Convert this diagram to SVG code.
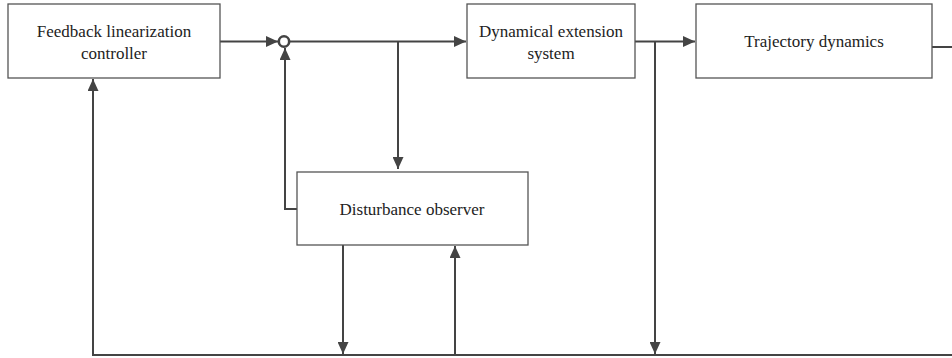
<svg xmlns="http://www.w3.org/2000/svg" width="952" height="358" viewBox="0 0 952 358">
<style>
.box{fill:#fff;stroke:#555;stroke-width:1.3}
.lbl{font-family:"Liberation Serif","Times New Roman",serif;font-size:17px;fill:#222;text-anchor:middle}
.ln{fill:none;stroke:#444;stroke-width:2}
</style>
<defs>
<marker id="ah" markerWidth="13" markerHeight="11" refX="12" refY="5.5" orient="auto" markerUnits="userSpaceOnUse">
<path d="M0,0 L12,5.5 L0,11 Z" fill="#444"/>
</marker>
</defs>
<rect width="952" height="358" fill="#fff"/>
<g id="connectors">
<path class="ln" d="M220,41.5 H278" marker-end="url(#ah)"/>
<path class="ln" d="M290,41.5 H466" marker-end="url(#ah)"/>
<path class="ln" d="M398,41.5 V169" marker-end="url(#ah)"/>
<path class="ln" d="M297,209 H285 V48" marker-end="url(#ah)"/>
<path class="ln" d="M635,41.5 H695" marker-end="url(#ah)"/>
<path class="ln" d="M655,41.5 V354" marker-end="url(#ah)"/>
<path class="ln" d="M932,47 H952"/>
<path class="ln" d="M952,355 H93 V79" marker-end="url(#ah)"/>
<path class="ln" d="M343,245 V354" marker-end="url(#ah)"/>
<path class="ln" d="M455,355 V246" marker-end="url(#ah)"/>
<circle cx="284" cy="41.5" r="5.2" fill="#fff" stroke="#444" stroke-width="2.6"/>
</g>
<g id="controller">
<rect class="box" x="8" y="4" width="212" height="74"/>
<text class="lbl" x="114" y="37">Feedback linearization</text>
<text class="lbl" x="114" y="59">controller</text>
</g>
<g id="extension">
<rect class="box" x="467" y="4" width="168" height="74"/>
<text class="lbl" x="551" y="37">Dynamical extension</text>
<text class="lbl" x="551" y="59">system</text>
</g>
<g id="trajectory">
<rect class="box" x="696" y="4" width="236" height="74"/>
<text class="lbl" x="814" y="47">Trajectory dynamics</text>
</g>
<g id="observer">
<rect class="box" x="297" y="172" width="231" height="73"/>
<text class="lbl" x="412" y="215">Disturbance observer</text>
</g>
</svg>
